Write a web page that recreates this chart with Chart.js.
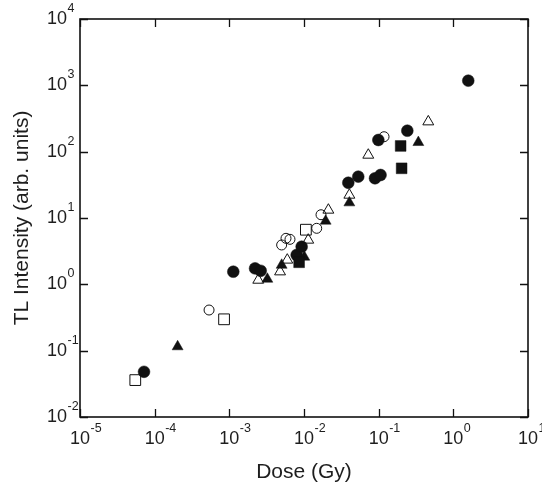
<!DOCTYPE html>
<html>
<head>
<meta charset="utf-8">
<script src="https://cdn.jsdelivr.net/npm/chart.js@4"></script>
<style>
  html, body { margin: 0; padding: 0; background: #fff; }
  #wrap { width: 542px; height: 488px; }
</style>
</head>
<body>
<div id="wrap"><canvas id="c" width="542" height="488"></canvas></div>
<script>
// ---- Data (Dose in Gy, TL intensity in arb. units) ----
const filledCircleDose = [7.2e-5, 1.13e-3, 2.21e-3, 2.63e-3, 7.97e-3, 9.3e-3, 3.92e-2, 5.33e-2, 8.93e-2, 0.106, 0.099, 0.242, 1.585];
const filledCircleTL   = [0.048, 1.55, 1.74, 1.6, 2.77, 3.69, 34, 42, 39.7, 44.5, 150, 207, 1175];

const openCircleDose = [5.35e-4, 5.02e-3, 5.74e-3, 6.49e-3, 1.48e-2, 1.69e-2, 0.118];
const openCircleTL   = [0.41, 3.92, 4.94, 4.77, 6.99, 11.2, 168];

const filledTriDose = [2.03e-4, 3.23e-3, 5.02e-3, 1.01e-2, 1.95e-2, 4.05e-2, 0.34];
const filledTriTL   = [0.115, 1.2, 1.95, 2.58, 9.0, 17, 138];

const openTriDose = [2.44e-3, 4.78e-3, 5.97e-3, 1.14e-2, 2.12e-2, 4.05e-2, 7.26e-2, 0.462];
const openTriTL   = [1.16, 1.55, 2.33, 4.66, 13.2, 22.2, 89, 283];

const openSquareDose = [5.5e-5, 8.5e-4, 1.06e-2];
const openSquareTL   = [0.036, 0.297, 6.66];

const filledSquareDose = [8.6e-3, 0.197, 0.203];
const filledSquareTL   = [2.15, 122, 56.1];

// Tick labels: base "10" with a superscript exponent
const xTickValues = [1e-5, 1e-4, 1e-3, 1e-2, 1e-1, 1e0, 1e1];
const xTickExp    = ['-5', '-4', '-3', '-2', '-1', '0', '1'];
const yTickValues = [1e-2, 1e-1, 1e0, 1e1, 1e2, 1e3, 1e4];
const yTickExp    = ['-2', '-1', '0', '1', '2', '3', '4'];
const tickBase = '10';

const xTitle = 'Dose (Gy)';
const yTitle = 'TL Intensity (arb. units)';

function pts(xs, ys) { return xs.map((x, i) => ({ x: x, y: ys[i] })); }

const FONT = "'Liberation Sans', Arial, Helvetica, sans-serif";
const TEXT = '#1e1e1e';

// Frame + inward ticks on all four sides
const framePlugin = {
  id: 'frame',
  afterDraw(chart) {
    const { ctx, chartArea: a, scales } = chart;
    ctx.save();
    ctx.strokeStyle = '#111';
    ctx.lineWidth = 1.6;
    ctx.strokeRect(a.left, a.top, a.right - a.left, a.bottom - a.top);
    ctx.lineWidth = 1.3;
    const L = 8;
    ctx.beginPath();
    xTickValues.forEach(v => {
      const px = Math.round(scales.x.getPixelForValue(v)) + 0.5;
      ctx.moveTo(px, a.bottom); ctx.lineTo(px, a.bottom - L);
      ctx.moveTo(px, a.top); ctx.lineTo(px, a.top + L);
    });
    yTickValues.forEach(v => {
      const py = Math.round(scales.y.getPixelForValue(v)) + 0.5;
      ctx.moveTo(a.left, py); ctx.lineTo(a.left + L, py);
      ctx.moveTo(a.right, py); ctx.lineTo(a.right - L, py);
    });
    ctx.stroke();
    ctx.restore();
  }
};

// Superscript exponents placed right after each "10" tick label
const exponentPlugin = {
  id: 'exponents',
  afterDraw(chart) {
    const ctx = chart.ctx;
    [['x', xTickExp], ['y', yTickExp]].forEach(([id, exps]) => {
      const scale = chart.scales[id];
      const items = scale.getLabelItems();
      items.forEach((item, i) => {
        if (exps[i] === undefined) return;
        ctx.save();
        ctx.font = item.font.string;
        ctx.textBaseline = item.options.textBaseline;
        ctx.textAlign = item.options.textAlign;
        const m = ctx.measureText(item.label);
        const tx = item.options.translation[0];
        const ty = item.options.translation[1] + (item.textOffset || 0);
        const inkTop = ty - m.actualBoundingBoxAscent;
        let right;
        if (item.options.textAlign === 'center') right = tx + m.width / 2;
        else if (item.options.textAlign === 'right') right = tx;
        else right = tx + m.width;
        ctx.font = '12.5px ' + FONT;
        ctx.textAlign = 'left';
        ctx.textBaseline = 'alphabetic';
        ctx.fillStyle = TEXT;
        ctx.fillText(exps[i], right + 0.5, inkTop + 1);
        ctx.restore();
      });
    });
  }
};

const black = '#111111';
const ds = (label, data, style, filled, radius) => ({
  label: label,
  data: data,
  showLine: false,
  pointStyle: style,
  pointRadius: radius,
  pointHoverRadius: radius,
  pointBackgroundColor: filled ? black : 'rgba(0,0,0,0)',
  pointBorderColor: black,
  pointBorderWidth: filled ? 0.5 : 1,
});

new Chart(document.getElementById('c'), {
  type: 'scatter',
  data: {
    datasets: [
      ds('open square', pts(openSquareDose, openSquareTL), 'rect', false, 7.6),
      ds('filled square', pts(filledSquareDose, filledSquareTL), 'rect', true, 7.6),
      ds('open triangle', pts(openTriDose, openTriTL), 'triangle', false, 6.3),
      ds('filled triangle', pts(filledTriDose, filledTriTL), 'triangle', true, 6.3),
      ds('open circle', pts(openCircleDose, openCircleTL), 'circle', false, 5),
      ds('filled circle', pts(filledCircleDose, filledCircleTL), 'circle', true, 5.9),
    ]
  },
  options: {
    responsive: false,
    animation: false,
    devicePixelRatio: 1,
    layout: { padding: { left: 0, right: 14, top: 19, bottom: 0 } },
    plugins: { legend: { display: false }, tooltip: { enabled: false } },
    scales: {
      x: {
        type: 'logarithmic',
        min: 1e-5, max: 10,
        grid: { display: false },
        border: { display: false },
        afterBuildTicks(scale) { scale.ticks = xTickValues.map(v => ({ value: v })); },
        afterFit(scale) { scale.height = 71; scale.paddingLeft = 0; scale.paddingRight = 0; },
        ticks: {
          autoSkip: false, maxRotation: 0, minRotation: 0,
          padding: 3,
          color: TEXT,
          font: { family: FONT, size: 18 },
          callback: () => tickBase
        },
        title: { display: true, text: xTitle, color: TEXT, font: { family: FONT, size: 21 }, padding: { top: 6, bottom: 3 } }
      },
      y: {
        type: 'logarithmic',
        min: 1e-2, max: 1e4,
        grid: { display: false },
        border: { display: false },
        afterBuildTicks(scale) { scale.ticks = yTickValues.map(v => ({ value: v })); },
        afterFit(scale) { scale.width = 80; scale.paddingTop = 0; scale.paddingBottom = 0; },
        ticks: {
          autoSkip: false,
          padding: 5,
          color: TEXT,
          font: { family: FONT, size: 18 },
          callback: () => tickBase
        },
        title: { display: true, text: yTitle, color: TEXT, font: { family: FONT, size: 21 }, padding: { top: 10, bottom: 4 } }
      }
    }
  },
  plugins: [framePlugin, exponentPlugin]
});
</script>
</body>
</html>
